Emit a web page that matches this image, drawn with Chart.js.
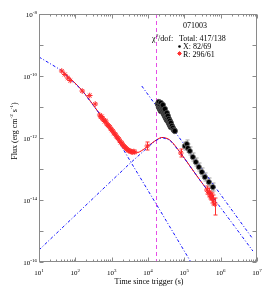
<!doctype html>
<html>
<head>
<title>071003 light curve</title>
<script src="https://cdn.jsdelivr.net/npm/chart.js"></script>
<style>body{margin:0;background:#fff}</style>
</head>
<body>
<canvas id="myChart" width="270" height="291"></canvas>
<script>
// R band (red stars)
var rTime = [42.2, 51.1, 61.8, 72.5, 155, 249, 353,
    470, 501, 533, 569, 605, 646, 687, 733, 781, 832,
    887, 944, 1007, 1072, 1143, 1217, 1297, 1380, 1472, 1570,
    1671, 1782, 1897, 2023, 2153, 2296, 2443, 2606, 2780, 2958,
    3155, 3357, 3581, 3811, 4064, 4325,
    9570, 80100,
    416900, 473100, 503500, 554000, 571500, 629000, 691800];
var rFlux = [1.45e-10, 1.12e-10, 8.61e-11, 7.16e-11, 3.28e-11, 2.35e-11, 1.25e-11,
    5.52e-12, 4.75e-12, 4.94e-12, 4.10e-12, 3.81e-12, 3.40e-12, 3.54e-12, 2.83e-12, 2.62e-12, 2.44e-12,
    2.26e-12, 1.95e-12, 1.81e-12, 1.68e-12, 1.45e-12, 1.35e-12, 1.25e-12, 1.08e-12, 1.00e-12, 9.28e-13,
    8.00e-13, 7.16e-13, 6.90e-13, 5.94e-13, 5.52e-13, 5.13e-13, 4.75e-13, 4.42e-13, 4.10e-13, 3.95e-13,
    3.81e-13, 3.67e-13, 3.54e-13, 3.54e-13, 3.67e-13, 3.54e-13,
    5.52e-13, 3.28e-13,
    2.10e-14, 1.75e-14, 1.45e-14, 1.35e-14, 1.16e-14, 1.0e-14, 7.43e-15];
// visible R error bars
var rBarTime = [9570, 80100, 416900, 473100, 503500, 554000, 571500, 629000, 691800];
var rBarLo = [4.10e-13, 2.44e-13, 1.56e-14, 1.25e-14, 1.08e-14, 1.0e-14, 8.0e-15, 6.90e-15, 3.28e-15];
var rBarHi = [7.43e-13, 4.42e-13, 2.83e-14, 2.44e-14, 1.95e-14, 1.81e-14, 1.68e-14, 1.45e-14, 1.16e-14];

// X-ray (black), dense part
var xTime = [18620, 19860, 19860, 21130, 21130, 22540, 22540, 22540, 23990, 23990,
    25590, 25590, 25590, 27230, 27230, 29040, 29040, 29040, 30910, 30910,
    32960, 32960, 32960, 35090, 35090, 37410, 37410, 39840, 39840, 42460,
    42460, 45290, 48190, 51400, 54700];
var xFlux = [1.25e-11, 1.0e-11, 1.45e-11, 1.16e-11, 8.62e-12, 1.35e-11, 9.28e-12, 7.43e-12, 1.08e-11, 8.0e-12,
    9.28e-12, 6.90e-12, 1.16e-11, 8.0e-12, 5.94e-12, 6.90e-12, 5.13e-12, 8.62e-12, 5.94e-12, 4.42e-12,
    6.40e-12, 4.75e-12, 3.81e-12, 5.13e-12, 3.54e-12, 4.10e-12, 3.05e-12, 3.54e-12, 2.62e-12, 3.05e-12,
    2.26e-12, 2.44e-12, 2.10e-12, 1.81e-12, 1.68e-12];
// X-ray late bins
var xBinTime = [103200, 117200, 124800, 141600, 171300, 207300, 250700, 303400, 367300, 473100, 609500];
var xBinFlux = [5.52e-13, 6.40e-13, 4.75e-13, 3.81e-13, 2.44e-13, 1.68e-13, 1.16e-13, 8.0e-14, 5.52e-14, 3.81e-14, 2.62e-14];
var xBinLo = [4.10e-13, 4.75e-13, 3.53e-13, 2.83e-13, 1.81e-13, 1.25e-13, 8.6e-14, 5.94e-14, 4.10e-14, 2.83e-14, 1.95e-14];
var xBinHi = [7.43e-13, 8.62e-13, 6.40e-13, 5.13e-13, 3.28e-13, 2.26e-13, 1.56e-13, 1.08e-13, 7.43e-14, 5.13e-14, 3.53e-14];

// model components (blue dash-dot)
var earlyT = [10, 42.2, 150, 470, 1217, 3361, 21130, 151000];
var earlyF = [4.10e-10, 1.50e-10, 3.53e-11, 5.94e-12, 1.25e-12, 1.68e-13, 4.75e-15, 1.0e-16];
var riseT = [10, 470, 3155, 8163, 15400, 23990, 39840, 75160, 267300, 1.79e6, 7.71e6];
var riseF = [2.44e-16, 1.81e-14, 1.50e-13, 4.10e-13, 8.0e-13, 1.04e-12, 8.62e-13, 3.54e-13, 4.42e-14, 2.26e-15, 2.26e-16];
var xrtT = [6745, 7.71e6];
var xrtF = [4.75e-11, 5.52e-16];
// total models (red)
var totRT = [42.2, 150, 470, 1217, 2296, 3357, 5236, 8163, 15400, 23990, 39840, 75160, 267300, 691800];
var totRF = [1.50e-10, 3.53e-11, 5.94e-12, 1.35e-12, 4.75e-13, 3.40e-13, 3.40e-13, 4.58e-13, 8.0e-13, 1.04e-12, 8.62e-13, 3.54e-13, 4.42e-14, 1.0e-14];
var totXT = [18000, 55000];
var totXF = [9.43e-12, 1.49e-12];

var trigTime = 17140;
var xTickExp = [1, 2, 3, 4, 5, 6, 7];
var yTickExp = [-8, -10, -12, -14, -16];

function pts(ts, fs) {
    return ts.map(function (t, i) { return {x: t, y: fs[i]}; });
}

var SERIF = '"Liberation Serif", "DejaVu Serif", serif';

var errorBars = {
    id: 'errorBars',
    beforeDatasetsDraw: function (chart) {
        var ctx = chart.ctx, sx = chart.scales.x, sy = chart.scales.y;
        function bars(ts, lo, hi, col) {
            ctx.strokeStyle = col;
            ctx.beginPath();
            for (var i = 0; i < ts.length; i++) {
                var x = Math.round(sx.getPixelForValue(ts[i])) + 0.5;
                var y1 = sy.getPixelForValue(lo[i]), y2 = sy.getPixelForValue(hi[i]);
                ctx.moveTo(x, y1); ctx.lineTo(x, y2);
                ctx.moveTo(x - 2, y1); ctx.lineTo(x + 2, y1);
                ctx.moveTo(x - 2, y2); ctx.lineTo(x + 2, y2);
            }
            ctx.stroke();
        }
        ctx.save();
        ctx.lineWidth = 1;
        bars(rBarTime, rBarLo, rBarHi, '#ff3030');
        bars(xBinTime, xBinLo, xBinHi, '#a0a0a0');
        ctx.restore();
    }
};

function powLabel(ctx, x, y, exp, align) {
    ctx.font = '7px ' + SERIF;
    var w1 = ctx.measureText('10').width;
    ctx.font = '5px ' + SERIF;
    var w2 = ctx.measureText(String(exp)).width;
    var x0 = align === 'center' ? x - (w1 + w2) / 2 : x - (w1 + w2);
    ctx.textAlign = 'left';
    ctx.font = '7px ' + SERIF;
    ctx.fillText('10', x0, y);
    ctx.font = '5px ' + SERIF;
    ctx.fillText(String(exp), x0 + w1, y - 3.5);
}

function richText(ctx, parts, x, y) {
    // parts: [text, superscript?]
    var w = 0;
    parts.forEach(function (p) {
        ctx.font = (p[1] ? '5px ' : '8px ') + SERIF;
        w += ctx.measureText(p[0]).width;
    });
    var cx = x - w / 2;
    parts.forEach(function (p) {
        ctx.font = (p[1] ? '5px ' : '8px ') + SERIF;
        ctx.fillText(p[0], cx, p[1] ? y - 4 : y);
        cx += ctx.measureText(p[0]).width;
    });
}

var axesDeco = {
    id: 'axesDeco',
    afterDraw: function (chart) {
        var ctx = chart.ctx, a = chart.chartArea, sx = chart.scales.x, sy = chart.scales.y;
        ctx.save();
        ctx.strokeStyle = '#8a8a8a';
        ctx.lineWidth = 1;
        var L = Math.round(a.left) + 0.5, R = Math.round(a.right) - 0.5;
        var T = Math.round(a.top) + 0.5, B = Math.round(a.bottom) - 0.5;
        ctx.strokeRect(L, T, R - L, B - T);
        ctx.beginPath();
        for (var d = 1; d <= 7; d++) {
            for (var m = 1; m <= 9; m++) {
                if (d === 7 && m > 1) break;
                var x = Math.round(sx.getPixelForValue(m * Math.pow(10, d))) + 0.5;
                var len = m === 1 ? 4 : 2;
                ctx.moveTo(x, B); ctx.lineTo(x, B - len);
                ctx.moveTo(x, T); ctx.lineTo(x, T + len);
            }
        }
        for (var e = -16; e <= -8; e++) {
            var y = Math.round(sy.getPixelForValue(Math.pow(10, e))) + 0.5;
            ctx.moveTo(L, y); ctx.lineTo(L + 4, y);
            ctx.moveTo(R, y); ctx.lineTo(R - 4, y);
        }
        ctx.stroke();

        ctx.fillStyle = '#000';
        ctx.textBaseline = 'alphabetic';
        xTickExp.forEach(function (ex) {
            powLabel(ctx, sx.getPixelForValue(Math.pow(10, ex)), a.bottom + 13, ex, 'center');
        });
        yTickExp.forEach(function (ex) {
            powLabel(ctx, a.left - 2, sy.getPixelForValue(Math.pow(10, ex)) + 3, ex, 'right');
        });

        // axis titles
        ctx.textAlign = 'left';
        richText(ctx, [['Time since trigger (s)', false]], 149, 284);
        ctx.save();
        ctx.translate(17, 131);
        ctx.rotate(-Math.PI / 2);
        richText(ctx, [['Flux (erg cm', false], ['-2', true], [' s', false], ['-1', true], [')', false]], 0, 0);
        ctx.restore();

        // fit summary
        ctx.font = '8px ' + SERIF;
        ctx.textAlign = 'center';
        ctx.fillText('071003', 195, 28);
        ctx.textAlign = 'left';
        ctx.fillText('\u03c7', 152, 41);
        ctx.font = '5px ' + SERIF;
        ctx.fillText('2', 156, 37);
        ctx.font = '8px ' + SERIF;
        ctx.fillText('/dof:', 158, 41);
        ctx.fillText('Total: 417/138', 179, 41);
        ctx.fillText('X: 82/69', 183, 49);
        ctx.fillText('R: 296/61', 183, 56.5);
        ctx.fillStyle = '#000';
        ctx.beginPath();
        ctx.arc(179.5, 46.5, 1.3, 0, 2 * Math.PI);
        ctx.fill();
        ctx.strokeStyle = '#ff3030';
        ctx.beginPath();
        var cx = 179.5, cy = 53.5, r = 2.2;
        ctx.moveTo(cx - r, cy); ctx.lineTo(cx + r, cy);
        ctx.moveTo(cx, cy - r); ctx.lineTo(cx, cy + r);
        ctx.moveTo(cx - r * 0.7, cy - r * 0.7); ctx.lineTo(cx + r * 0.7, cy + r * 0.7);
        ctx.moveTo(cx - r * 0.7, cy + r * 0.7); ctx.lineTo(cx + r * 0.7, cy - r * 0.7);
        ctx.stroke();
        ctx.restore();
    }
};

var dashDot = [3, 2, 1, 2];
var ctx = document.getElementById('myChart').getContext('2d');
var chart = new Chart(ctx, {
    type: 'scatter',
    data: {
        datasets: [
            {data: pts(xBinTime, xBinFlux), pointRadius: 2.6, backgroundColor: '#000', borderColor: '#777', borderWidth: 0.8, order: 0},
            {data: pts(xTime, xFlux), pointRadius: 2.7, backgroundColor: '#000', borderColor: '#555', borderWidth: 0.8, order: 0},
            {data: pts(rTime, rFlux), pointStyle: 'star', pointRadius: 2.8, borderColor: '#ff2a2a', backgroundColor: '#ff2a2a', borderWidth: 1, order: 1},
            {data: pts(earlyT, earlyF), showLine: true, pointRadius: 0, borderColor: '#1010ff', borderWidth: 1, borderDash: dashDot, order: 2},
            {data: pts(riseT, riseF), showLine: true, pointRadius: 0, borderColor: '#1010ff', borderWidth: 1, borderDash: dashDot, order: 2},
            {data: pts(xrtT, xrtF), showLine: true, pointRadius: 0, borderColor: '#1010ff', borderWidth: 1, borderDash: dashDot, order: 2},
            {data: pts(totRT, totRF), showLine: true, pointRadius: 0, borderColor: '#ff0000', borderWidth: 1, tension: 0.3, order: 3},
            {data: pts(totXT, totXF), showLine: true, pointRadius: 0, borderColor: '#ff0000', borderWidth: 1, order: 3},
            {data: [{x: trigTime, y: 1e-8}, {x: trigTime, y: 1e-16}], showLine: true, pointRadius: 0, borderColor: '#e64de6', borderWidth: 1, borderDash: [4, 3], order: 4}
        ]
    },
    options: {
        responsive: false,
        animation: false,
        events: [],
        layout: {padding: {left: 39, right: 13, top: 14, bottom: 29}},
        plugins: {legend: {display: false}, tooltip: {enabled: false}},
        scales: {
            x: {type: 'logarithmic', min: 10, max: 1e7, display: false},
            y: {type: 'logarithmic', min: 1e-16, max: 1e-8, display: false}
        }
    },
    plugins: [errorBars, axesDeco]
});
</script>
</body>
</html>
